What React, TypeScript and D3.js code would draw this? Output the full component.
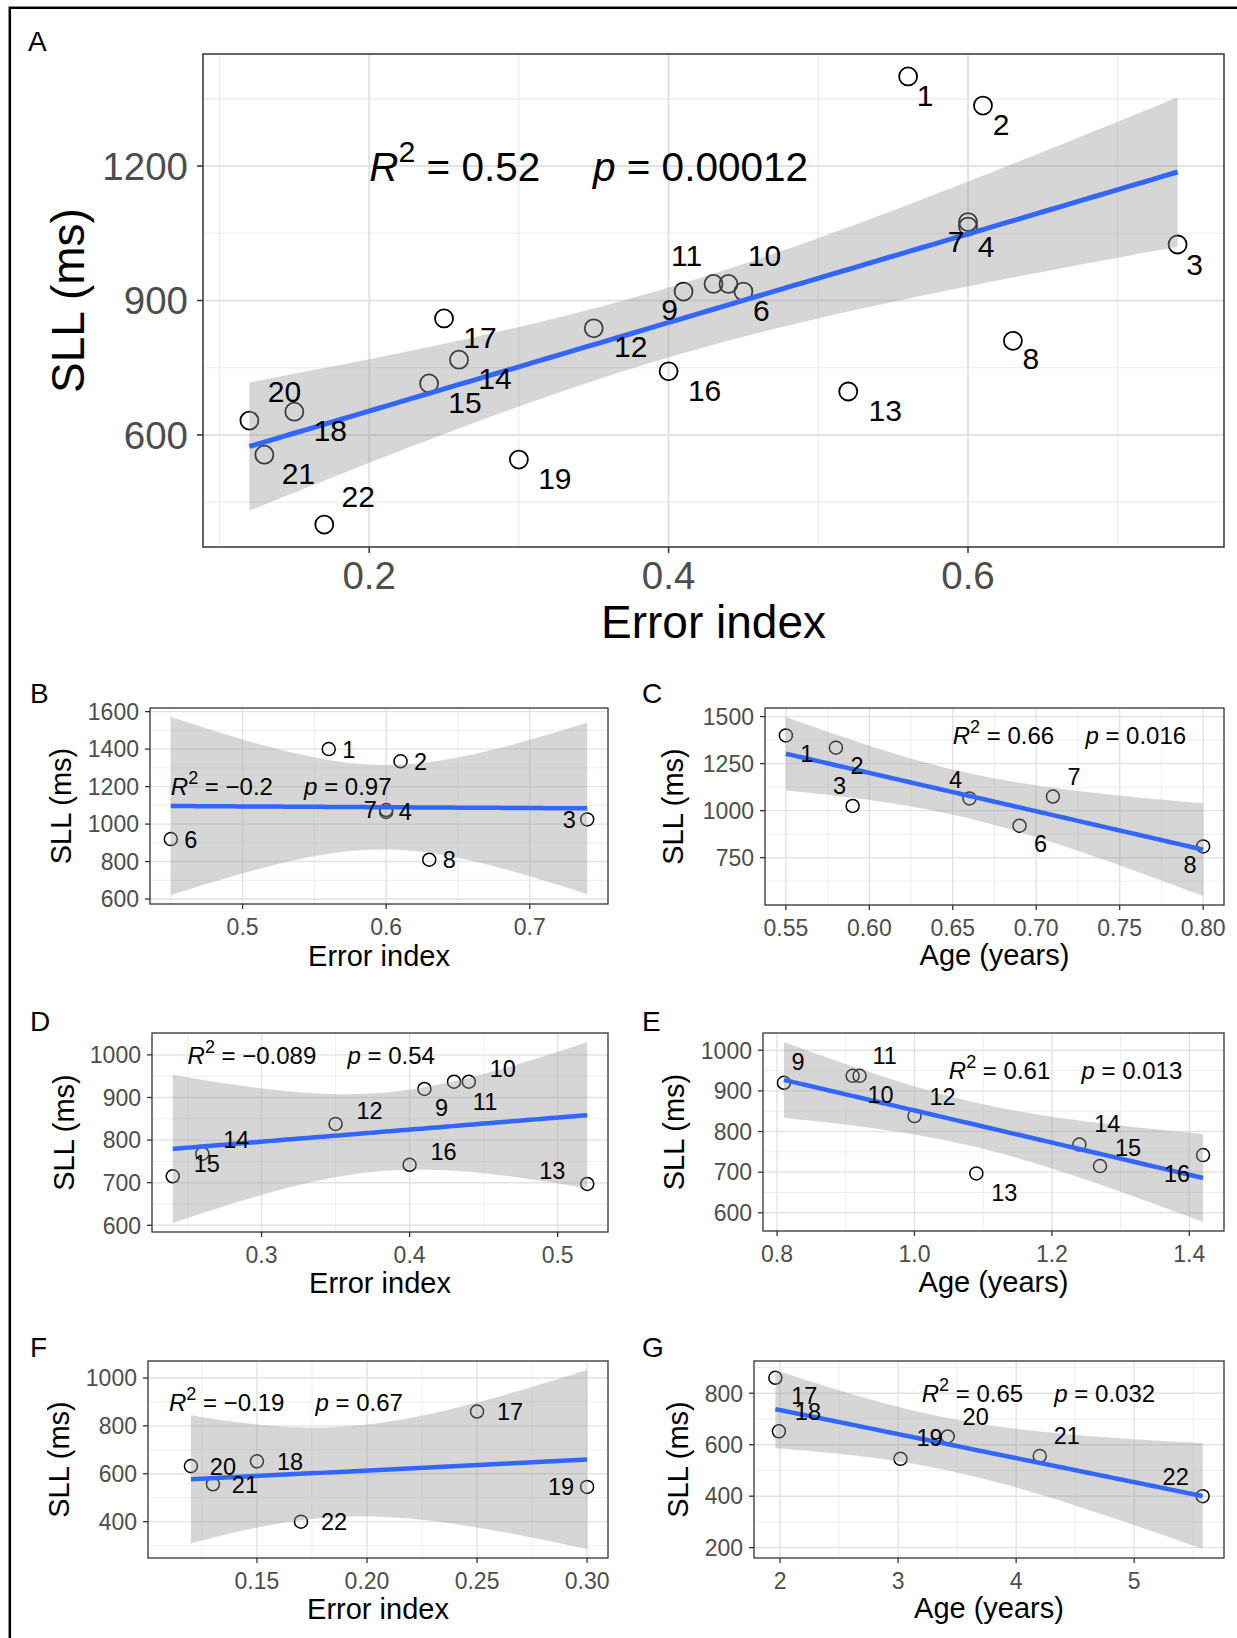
import React from 'react';
import * as d3 from 'd3';

// subject numbers (there is no subject 5 in the figure)
const subjects = [1, 2, 3, 4, 6, 7, 8, 9, 10, 11, 12, 13, 14, 15, 16, 17, 18, 19, 20, 21, 22];
const errorIndex = [0.56, 0.61, 0.74, 0.6, 0.45, 0.6, 0.63, 0.41, 0.44, 0.43, 0.35, 0.52, 0.26, 0.24, 0.4, 0.25, 0.15, 0.3, 0.12, 0.13, 0.17];
const ageYears = [0.55, 0.58, 0.59, 0.66, 0.69, 0.71, 0.8, 0.81, 0.92, 0.91, 1.0, 1.09, 1.24, 1.27, 1.42, 1.96, 1.99, 3.02, 3.42, 4.2, 5.58];
const sllMs = [1400, 1335, 1025, 1065, 920, 1075, 810, 920, 937, 937, 838, 697, 768, 715, 742, 860, 652, 545, 632, 556, 400];

const groupAll = subjects;
const group1 = [1, 2, 3, 4, 6, 7, 8];
const group2 = [9, 10, 11, 12, 13, 14, 15, 16];
const group3 = [17, 18, 19, 20, 21, 22];

// printed statistics, panels A..G
const r2Text = ['0.52', '\u22120.2', '0.66', '\u22120.089', '0.61', '\u22120.19', '0.65'];
const pText = ['0.00012', '0.97', '0.016', '0.54', '0.013', '0.67', '0.032'];

// axis ticks
const xTicksA = [0.2, 0.4, 0.6];
const yTicksA = [600, 900, 1200];
const xTicksB = [0.5, 0.6, 0.7];
const yTicksB = [600, 800, 1000, 1200, 1400, 1600];
const xTicksC = [0.55, 0.6, 0.65, 0.7, 0.75, 0.8];
const yTicksC = [750, 1000, 1250, 1500];
const xTicksD = [0.3, 0.4, 0.5];
const yTicksD = [600, 700, 800, 900, 1000];
const xTicksE = [0.8, 1.0, 1.2, 1.4];
const yTicksE = [600, 700, 800, 900, 1000];
const xTicksF = [0.15, 0.2, 0.25, 0.3];
const yTicksF = [400, 600, 800, 1000];
const xTicksG = [2, 3, 4, 5];
const yTicksG = [200, 400, 600, 800];

// student t 0.975 quantiles by degrees of freedom
const tQuant: Record<number, number> = { 4: 2.776, 5: 2.571, 6: 2.447, 19: 2.093 };

const FONT = "'Liberation Sans', Arial, Helvetica, sans-serif";

function linearFit(xs: number[], ys: number[]) {
  const n = xs.length;
  const mx = d3.mean(xs)!;
  const my = d3.mean(ys)!;
  const sxx = d3.sum(xs, (v) => (v - mx) ** 2);
  const sxy = d3.sum(xs.map((v, i) => (v - mx) * (ys[i] - my)));
  const slope = sxy / sxx;
  const icpt = my - slope * mx;
  const sse = d3.sum(xs.map((v, i) => (ys[i] - icpt - slope * v) ** 2));
  const s = Math.sqrt(sse / (n - 2));
  const t = tQuant[n - 2];
  return (x: number) => {
    const fit = icpt + slope * x;
    const se = s * Math.sqrt(1 / n + (x - mx) ** 2 / sxx);
    return { x, fit, lo: fit - t * se, hi: fit + t * se };
  };
}

const big = { tick: 38.5, title: 46, annot: 40.5, label: 30, letter: 28, r: 9, pw: 1.8, lw: 5, tickLen: 6, gap: 9, xTickDy: 42, major: 2, minor: 1.2, border: 1.5 };
const small = { tick: 23, title: 29, annot: 24, label: 23.5, letter: 28, r: 6.5, pw: 1.5, lw: 4.5, tickLen: 5, gap: 6, xTickDy: 31, major: 1.4, minor: 0.9, border: 1.3 };

const panels = [
  {
    name: 'A', ids: groupAll, xVar: 'error', rect: [203, 54, 1224, 547], letter: [28, 51],
    xTicks: xTicksA, yTicks: yTicksA, xFmt: '.1f', xTitle: 'Error index', xTitleY: 638, yTitleX: 84,
    annot: [0.2, 1200], st: big,
    nudge: { 1: [17, 19], 2: [18, 19], 3: [17, 20], 4: [18, 20], 6: [18, 19], 7: [-12, 19], 8: [18, 17], 9: [-14, 18], 10: [36, -29], 11: [-27, -29], 12: [37, 18], 13: [37, 19], 14: [36, 19], 15: [36, 19], 16: [36, 19], 17: [36, 19], 18: [36, 19], 19: [36, 19], 20: [35, -29], 21: [34, 19], 22: [34, -28] },
  },
  {
    name: 'B', ids: group1, xVar: 'error', rect: [150, 708, 608, 904], letter: [30, 703],
    xTicks: xTicksB, yTicks: yTicksB, xFmt: '.1f', xTitle: 'Error index', xTitleY: 966, yTitleX: 71,
    annot: [0.45, 1200], st: small,
    nudge: { 1: [20, 0], 2: [20, 0], 3: [-18, 0], 4: [19, 0], 6: [20, 0], 7: [-16, 0], 8: [20, 0] },
  },
  {
    name: 'C', ids: group1, xVar: 'age', rect: [765, 708, 1224, 905], letter: [642, 703],
    xTicks: xTicksC, yTicks: yTicksC, xFmt: '.2f', xTitle: 'Age (years)', xTitleY: 965, yTitleX: 683,
    annot: [0.65, 1400], st: small,
    nudge: { 1: [21, 18], 2: [21, 18], 3: [-13, -20], 4: [-14, -19], 6: [21, 18], 7: [21, -20], 8: [-13, 18] },
  },
  {
    name: 'D', ids: group2, xVar: 'error', rect: [152, 1033, 608, 1232], letter: [30, 1031],
    xTicks: xTicksD, yTicks: yTicksD, xFmt: '.1f', xTitle: 'Error index', xTitleY: 1293, yTitleX: 74,
    annot: [0.25, 1000], st: small,
    nudge: { 9: [17, 19], 10: [34, -13], 11: [31, 20], 12: [34, -13], 13: [-35, -13], 14: [34, -14], 15: [34, -13], 16: [34, -13] },
  },
  {
    name: 'E', ids: group2, xVar: 'age', rect: [763, 1033, 1224, 1231], letter: [642, 1031],
    xTicks: xTicksE, yTicks: yTicksE, xFmt: '.1f', xTitle: 'Age (years)', xTitleY: 1292, yTitleX: 684,
    annot: [1.05, 950], st: small,
    nudge: { 9: [14, -21], 10: [21, 19], 11: [32, -20], 12: [28, -20], 13: [28, 19], 14: [28, -21], 15: [28, -19], 16: [-26, 18] },
  },
  {
    name: 'F', ids: group3, xVar: 'error', rect: [148, 1361, 608, 1558], letter: [30, 1357],
    xTicks: xTicksF, yTicks: yTicksF, xFmt: '.2f', xTitle: 'Error index', xTitleY: 1619, yTitleX: 69,
    annot: [0.11, 900], st: small,
    nudge: { 17: [33, 0], 18: [33, 0], 19: [-26, 0], 20: [32, 0], 21: [32, 0], 22: [33, 0] },
  },
  {
    name: 'G', ids: group3, xVar: 'age', rect: [754, 1361, 1224, 1558], letter: [642, 1357],
    xTicks: xTicksG, yTicks: yTicksG, xFmt: 'd', xTitle: 'Age (years)', xTitleY: 1618, yTitleX: 688,
    annot: [3.2, 800], st: small,
    nudge: { 17: [29, 18], 18: [29, -20], 19: [29, -21], 20: [28, -20], 21: [27, -20], 22: [-27, -20] },
  },
];

const pad5 = (e: number[]) => {
  const d = e[1] - e[0];
  return [e[0] - d * 0.05, e[1] + d * 0.05];
};

// minor breaks halfway between the major ones
const minorOf = (ticks: number[], dom: number[]) => {
  const step = ticks[1] - ticks[0];
  const m = [ticks[0] - step / 2, ...ticks.map((t) => t + step / 2)];
  return m.filter((v) => v > dom[0] && v < dom[1]);
};

function Panel({ cfg, k }: { cfg: any; k: number }) {
  const st = cfg.st;
  const [l, t, r, b] = cfg.rect;
  const src = cfg.xVar === 'age' ? ageYears : errorIndex;
  const idx = cfg.ids.map((id: number) => subjects.indexOf(id));
  const pts = idx.map((i: number) => ({ id: subjects[i], x: src[i], y: sllMs[i] }));
  const xs = pts.map((d: any) => d.x);
  const ys = pts.map((d: any) => d.y);
  const fit = linearFit(xs, ys);
  const [x0, x1] = d3.extent(xs) as [number, number];
  const band = d3.range(81).map((j) => fit(x0 + ((x1 - x0) * j) / 80));

  const xDom = pad5(d3.extent([...xs, cfg.annot[0]]) as number[]);
  const yDom = pad5(d3.extent([...ys, ...band.map((d) => d.lo), ...band.map((d) => d.hi), cfg.annot[1]]) as number[]);
  const x = d3.scaleLinear().domain(xDom).range([l, r]);
  const y = d3.scaleLinear().domain(yDom).range([b, t]);

  const area = d3.area<any>().x((d) => x(d.x)).y0((d) => y(d.lo)).y1((d) => y(d.hi));
  const line = d3.line<any>().x((d) => x(d.x)).y((d) => y(d.fit));
  const fmt = d3.format(cfg.xFmt);

  const ax = x(cfg.annot[0]);
  const ay = y(cfg.annot[1]) + st.annot * 0.36;

  return (
    <g>
      <rect x={l} y={t} width={r - l} height={b - t} fill="#fff" />
      {minorOf(cfg.xTicks, xDom).map((v) => (
        <line key={'mx' + v} x1={x(v)} x2={x(v)} y1={t} y2={b} stroke="#ececec" strokeWidth={st.minor} />
      ))}
      {minorOf(cfg.yTicks, yDom).map((v) => (
        <line key={'my' + v} x1={l} x2={r} y1={y(v)} y2={y(v)} stroke="#ececec" strokeWidth={st.minor} />
      ))}
      {cfg.xTicks.map((v: number) => (
        <line key={'gx' + v} x1={x(v)} x2={x(v)} y1={t} y2={b} stroke="#e2e2e2" strokeWidth={st.major} />
      ))}
      {cfg.yTicks.map((v: number) => (
        <line key={'gy' + v} x1={l} x2={r} y1={y(v)} y2={y(v)} stroke="#e2e2e2" strokeWidth={st.major} />
      ))}

      {pts.map((d: any) => (
        <circle key={'p' + d.id} cx={x(d.x)} cy={y(d.y)} r={st.r} fill="none" stroke="#000" strokeWidth={st.pw} />
      ))}
      <path d={area(band) || ''} fill="#999999" fillOpacity={0.4} />
      <path d={line(band) || ''} fill="none" stroke="#3366FF" strokeWidth={st.lw} />

      {pts.map((d: any) => {
        const nd = cfg.nudge[d.id] || [0, 0];
        return (
          <text key={'l' + d.id} x={x(d.x) + nd[0]} y={y(d.y) + nd[1]} dy="0.36em" textAnchor="middle" fontSize={st.label} fill="#000">
            {d.id}
          </text>
        );
      })}

      <text x={ax} y={ay} fontSize={st.annot} fill="#000">
        <tspan fontStyle="italic">R</tspan>
        <tspan dy={-st.annot * 0.45} fontSize={st.annot * 0.75}>2</tspan>
        <tspan dy={st.annot * 0.45}>{' = ' + r2Text[k]}</tspan>
        <tspan dx={st.annot * 1.3} fontStyle="italic">p</tspan>
        <tspan>{' = ' + pText[k]}</tspan>
      </text>

      <rect x={l} y={t} width={r - l} height={b - t} fill="none" stroke="#333" strokeWidth={st.border} />

      {cfg.xTicks.map((v: number) => (
        <g key={'tx' + v}>
          <line x1={x(v)} x2={x(v)} y1={b} y2={b + st.tickLen} stroke="#333" strokeWidth={st.border} />
          <text x={x(v)} y={b + st.xTickDy} textAnchor="middle" fontSize={st.tick} fill="#4d4d4d">
            {fmt(v)}
          </text>
        </g>
      ))}
      {cfg.yTicks.map((v: number) => (
        <g key={'ty' + v}>
          <line x1={l - st.tickLen} x2={l} y1={y(v)} y2={y(v)} stroke="#333" strokeWidth={st.border} />
          <text x={l - st.tickLen - st.gap} y={y(v)} dy="0.36em" textAnchor="end" fontSize={st.tick} fill="#4d4d4d">
            {v}
          </text>
        </g>
      ))}

      <text x={(l + r) / 2} y={cfg.xTitleY} textAnchor="middle" fontSize={st.title} fill="#000">
        {cfg.xTitle}
      </text>
      <text transform={`translate(${cfg.yTitleX},${(t + b) / 2}) rotate(-90)`} textAnchor="middle" fontSize={st.title} fill="#000">
        SLL (ms)
      </text>
      <text x={cfg.letter[0]} y={cfg.letter[1]} fontSize={st.letter} fill="#000">
        {cfg.name}
      </text>
    </g>
  );
}

export default function App() {
  return (
    <svg
      width={1237}
      height={1638}
      style={{ position: 'absolute', left: 0, top: 0, background: '#fff', fontFamily: FONT }}
    >
      <rect x={0} y={0} width={1237} height={1638} fill="#fff" />
      {panels.map((p, k) => (
        <Panel key={p.name} cfg={p} k={k} />
      ))}
      <rect x={9.8} y={7.8} width={1300} height={1700} fill="none" stroke="#000" strokeWidth={2.5} />
    </svg>
  );
}
